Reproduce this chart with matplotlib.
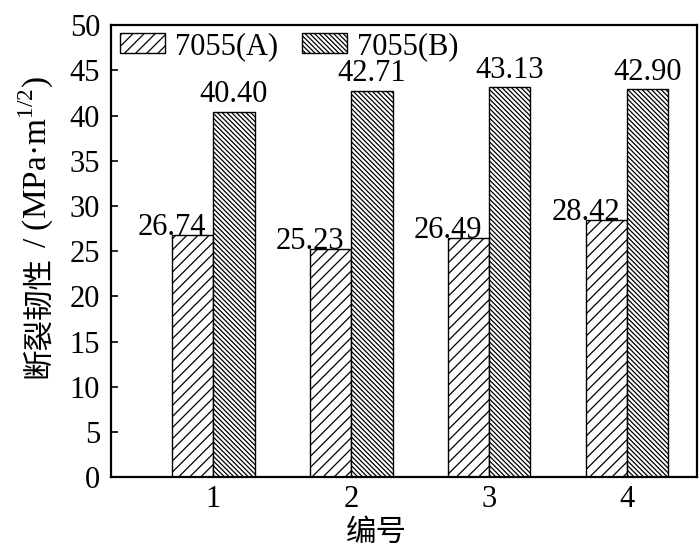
import numpy as np
import matplotlib
matplotlib.use("Agg")
import matplotlib.pyplot as plt

# 数据
bianhao = [1, 2, 3, 4]
valores_a = [26.74, 25.23, 26.49, 28.42]
valores_b = [40.40, 42.71, 43.13, 42.90]
etiquetas = ["7055(A)", "7055(B)"]

plt.rcParams['font.family'] = ['Liberation Serif', 'Noto Sans CJK SC']
plt.rcParams['mathtext.fontset'] = 'custom'
plt.rcParams['mathtext.rm'] = 'Liberation Serif'
plt.rcParams['hatch.linewidth'] = 0.9
tam = 22

fig = plt.figure(figsize=(7, 5.49), dpi=100)
ax = fig.add_axes([0.159, 0.131, 0.837, 0.823])

x = np.array(bianhao)
ancho = 0.3
ax.bar(x - ancho / 2, valores_a, ancho, color='white', edgecolor='black',
       linewidth=1.0, hatch='///', label=etiquetas[0])
ax.bar(x + ancho / 2, valores_b, ancho, color='white', edgecolor='black',
       linewidth=1.0, hatch='\\' * 7, label=etiquetas[1])

# etiquetas de valor
for xi, v in zip(x, valores_a):
    ax.annotate(f"{v:.2f}", (xi - ancho, v), xytext=(0, 0), textcoords='offset points',
                ha='center', va='baseline', fontsize=tam)
for xi, v in zip(x, valores_b):
    ax.annotate(f"{v:.2f}", (xi + ancho / 2, v), xytext=(0, 7), textcoords='offset points',
                ha='center', va='baseline', fontsize=tam)

ax.set_xlim(0.26, 4.51)
ax.set_ylim(0, 50)
ax.set_yticks(np.arange(0, 51, 5))
ax.set_xticks(x)
ax.tick_params(axis='y', direction='in', length=5, width=1.2, pad=8, labelsize=tam)
ax.tick_params(axis='x', direction='in', length=0, pad=6, labelsize=tam)
for s in ax.spines.values():
    s.set_linewidth(1.6)

# eje y: parte china y parte con unidades, alineadas por la linea base
y0 = 0.534
fig.text(0.067, y0, "断裂韧性", rotation=90, rotation_mode='anchor',
         ha='right', va='baseline', fontsize=tam, family=['Noto Sans CJK SC'])
fig.text(0.067, y0, " / (MPa·m$^{1/2}$)", rotation=90, rotation_mode='anchor',
         ha='left', va='baseline', fontsize=24)

ax.set_xlabel("编号", fontsize=tam)
ax.xaxis.set_label_coords(0.452, -0.093)

ax.legend(loc='upper left', bbox_to_anchor=(0.015, 0.985), frameon=False, ncol=2,
          fontsize=tam, borderpad=0, borderaxespad=0, handlelength=1.47,
          handleheight=0.65, handletextpad=0.33, columnspacing=0.78)

fig.savefig("out.png", dpi=100)
